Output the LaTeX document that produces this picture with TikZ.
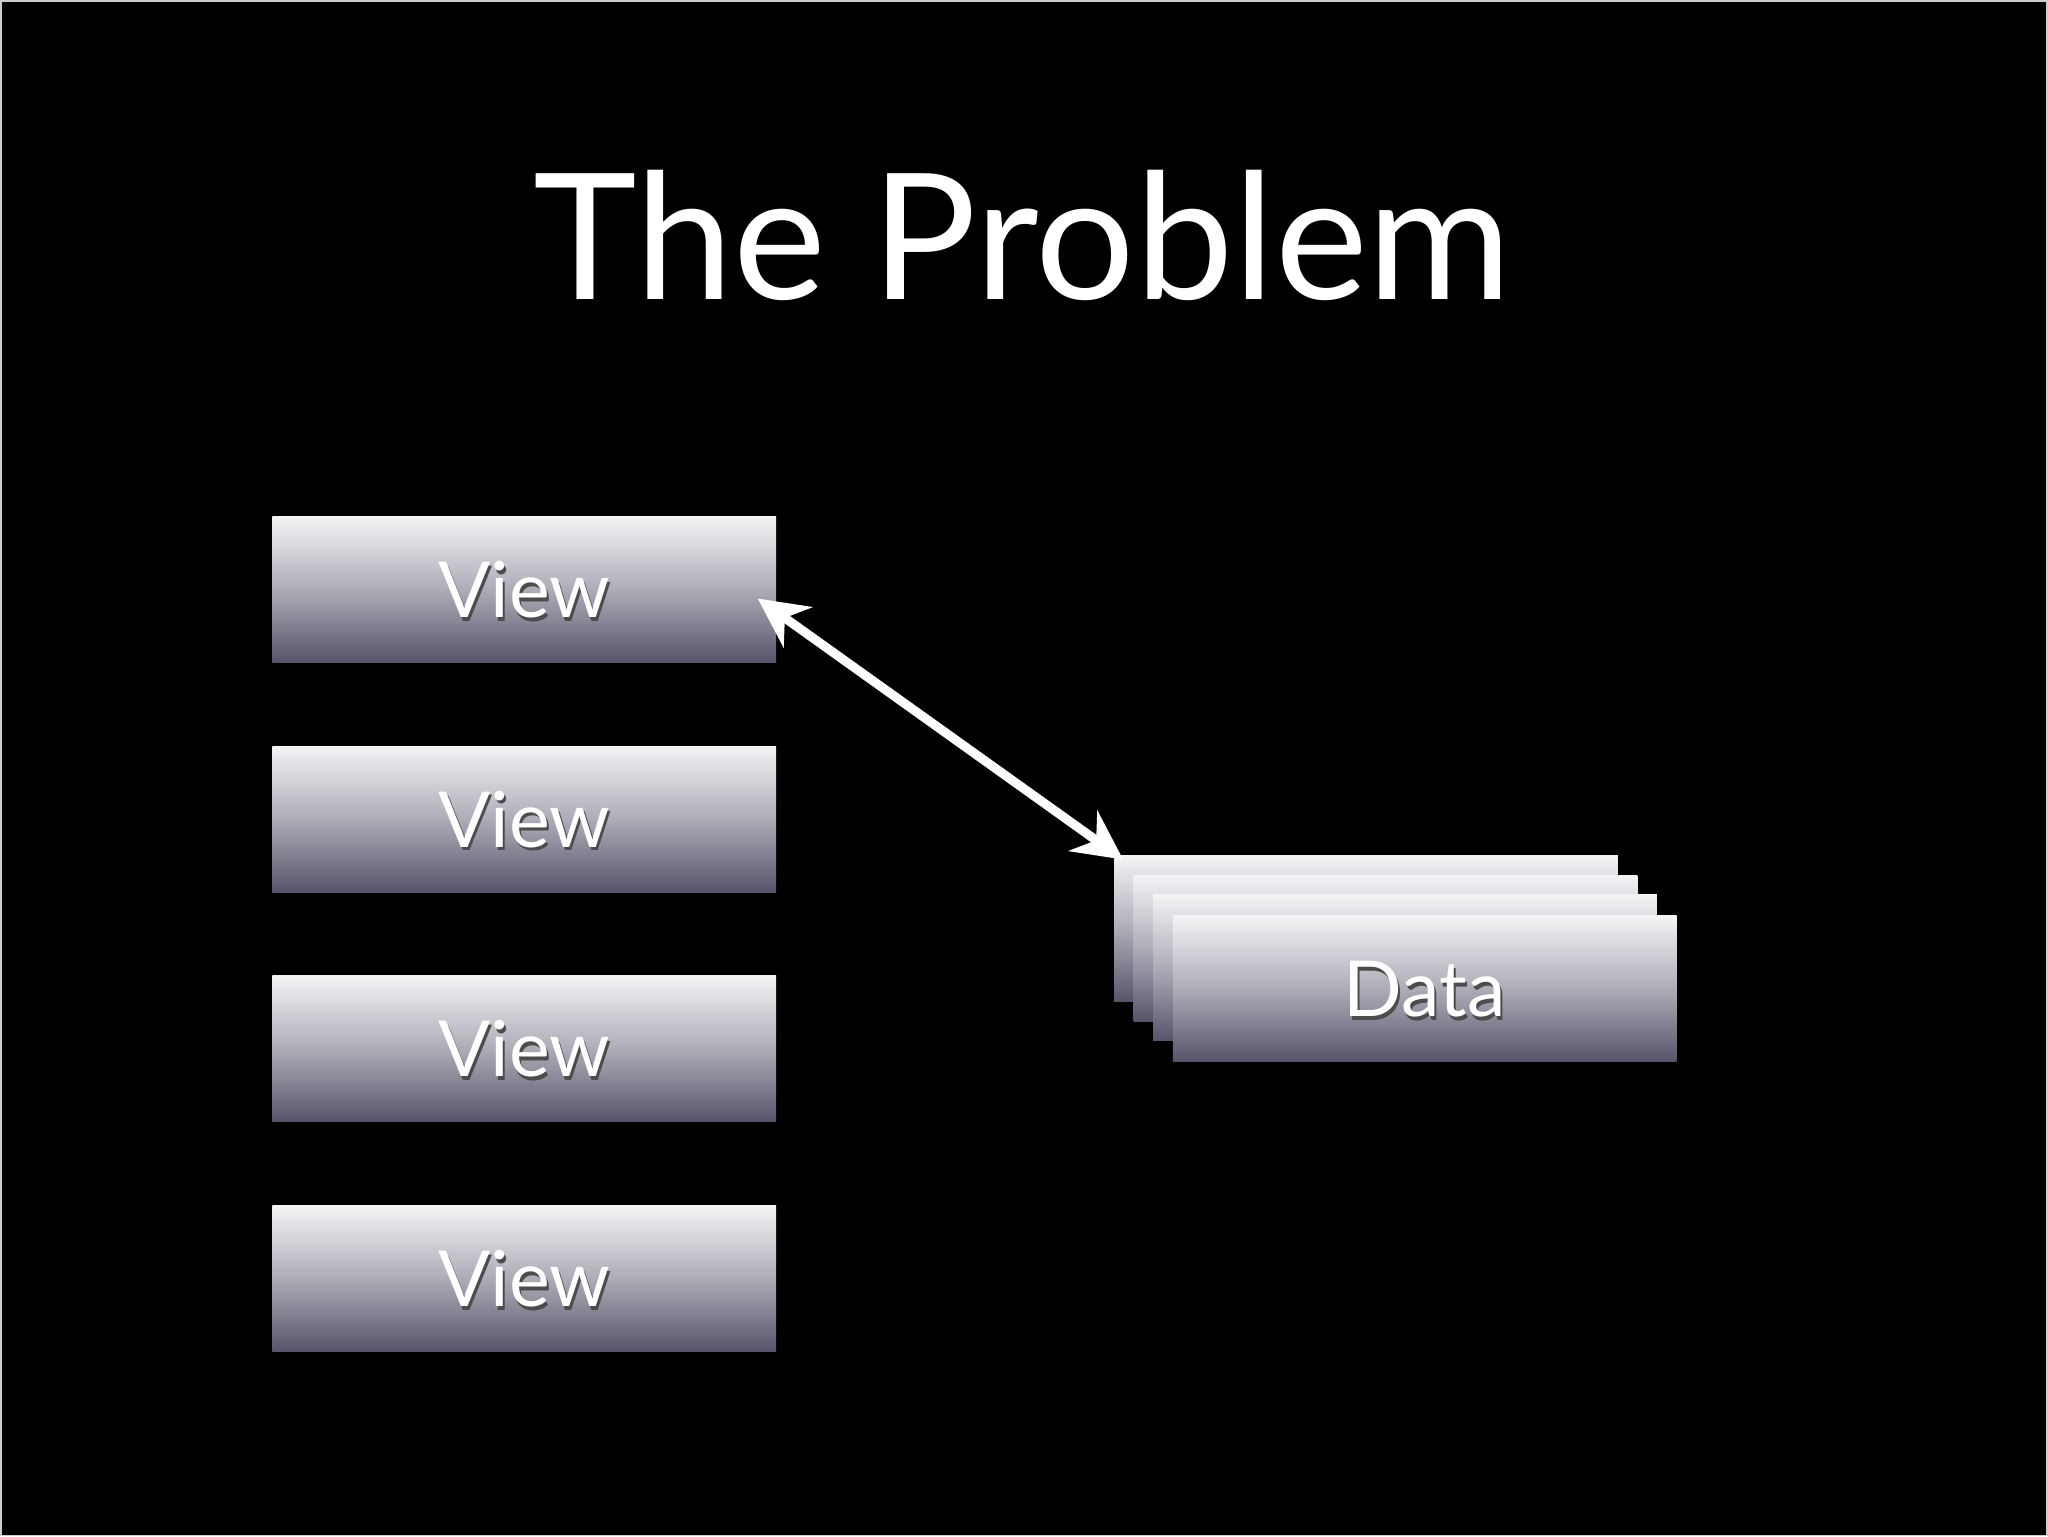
\documentclass[tikz,border=0pt]{standalone}
\usepackage{fontspec}
\setmainfont{Lato}
\usetikzlibrary{arrows.meta}
\definecolor{gtop}{HTML}{F4F4F6}
\definecolor{gbot}{HTML}{55546A}
\tikzset{
 box/.style={minimum width=386*0.01306cm, minimum height=112*0.01306cm, inner sep=0pt, top color=gtop, bottom color=gbot, middle color=gtop!55!gbot, shading angle=0},
 lbl/.style={text=white, font=\fontsize{22}{26}\selectfont},
 shad/.style={text=black!70, font=\fontsize{22}{26}\selectfont}
}
\begin{document}
\begin{tikzpicture}[x=0.01306cm,y=-0.01306cm]
\fill[black] (0,0) rectangle (1568,1176);
\draw[gray!40, line width=0.5pt] (0,0) rectangle (1568,1176);
\node[text=white, font=\fontsize{50}{60}\selectfont] (title) at (783,180) {The Problem};
\foreach \y/\n in {451/v1,627/v2,803/v3,979/v4}{
  \node[box] (\n) at (401,\y) {};
  \node[shad] at (402.5,\y+3) {View};
  \node[lbl] at (401,\y) {View};
}
\node[box] (d1) at (1046,711) {};
\node[box] (d2) at (1061,726) {};
\node[box] (d3) at (1076,741) {};
\node[box] (d4) at (1091,757) {};
\node[shad] at (1092.5,760) {Data};
\node[lbl] (dl) at (1091,757) {Data};
\coordinate (a) at (580,458);
\coordinate (b) at (860,658);
\draw[white, line width=2.6pt, {Stealth[length=14pt,width=14pt]}-{Stealth[length=14pt,width=14pt]}] (a) -- (b);
\end{tikzpicture}
\end{document}
